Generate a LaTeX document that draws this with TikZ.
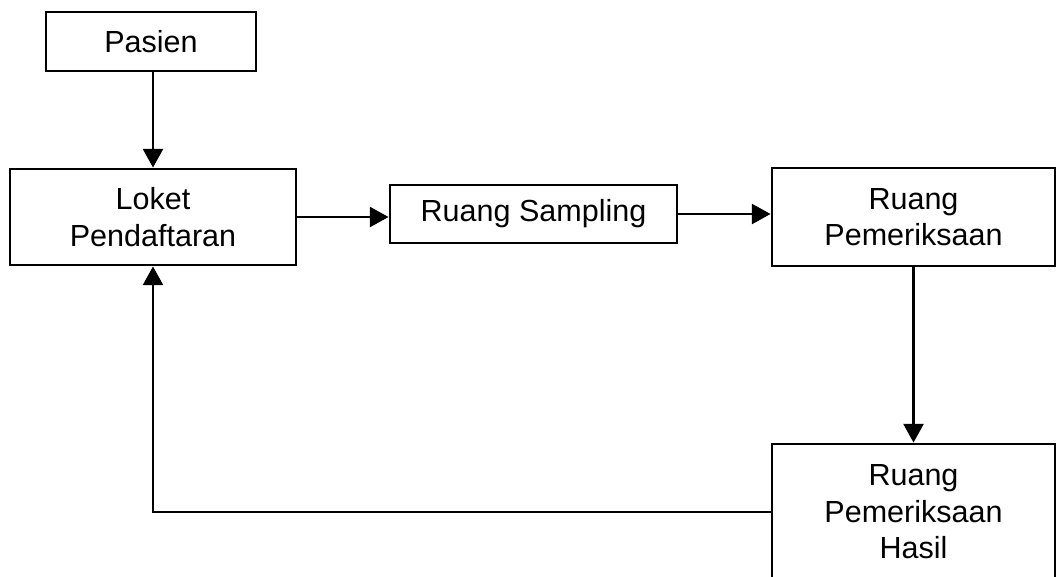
\documentclass[tikz,border=0pt]{standalone}
\usepackage{fontspec}
\setmainfont{Liberation Sans}
\usepackage{tikz}
\usetikzlibrary{positioning, arrows.meta, calc}

\begin{document}
\begin{tikzpicture}[x=0.025cm, y=-0.025cm,
            box/.style={draw, line width=2pt, align=center, inner sep=0pt,
                font=\fontsize{21.7}{26}\selectfont},
            flow/.style={line width=2pt, -{Triangle[length=0.47cm, width=0.5cm]}}]
            \useasboundingbox (0,0) rectangle (1057,577);
            
            % boxes
            \node[box, minimum width=5.25cm, minimum height=1.475cm] (pasien) at (151,41.5) {Pasien};
            \node[box, minimum width=7.15cm, minimum height=2.4cm] (loket) at (153,217) {Loket\\Pendaftaran};
            \node[box, minimum width=7.175cm, minimum height=1.45cm] (sampling) at (533.5,214) {Ruang Sampling};
            \node[box, minimum width=7.075cm, minimum height=2.45cm] (periksa) at (913.5,217) {Ruang\\Pemeriksaan};
            \node[box, minimum width=7.075cm, minimum height=3.4cm] (hasil) at (913.5,512) {Ruang\\Pemeriksaan\\Hasil};
            
            % arrows
            \draw[flow] (loket.north |- pasien.south) -- (loket.north);
            \draw[flow] (loket.east) -- (loket.east -| sampling.west);
            \draw[flow] (sampling.east) -- (sampling.east -| periksa.west);
            \draw[flow] (periksa.south) -- (hasil.north);
            \draw[flow] (hasil.west) -| (loket.south);
        \end{tikzpicture}
\end{document}
